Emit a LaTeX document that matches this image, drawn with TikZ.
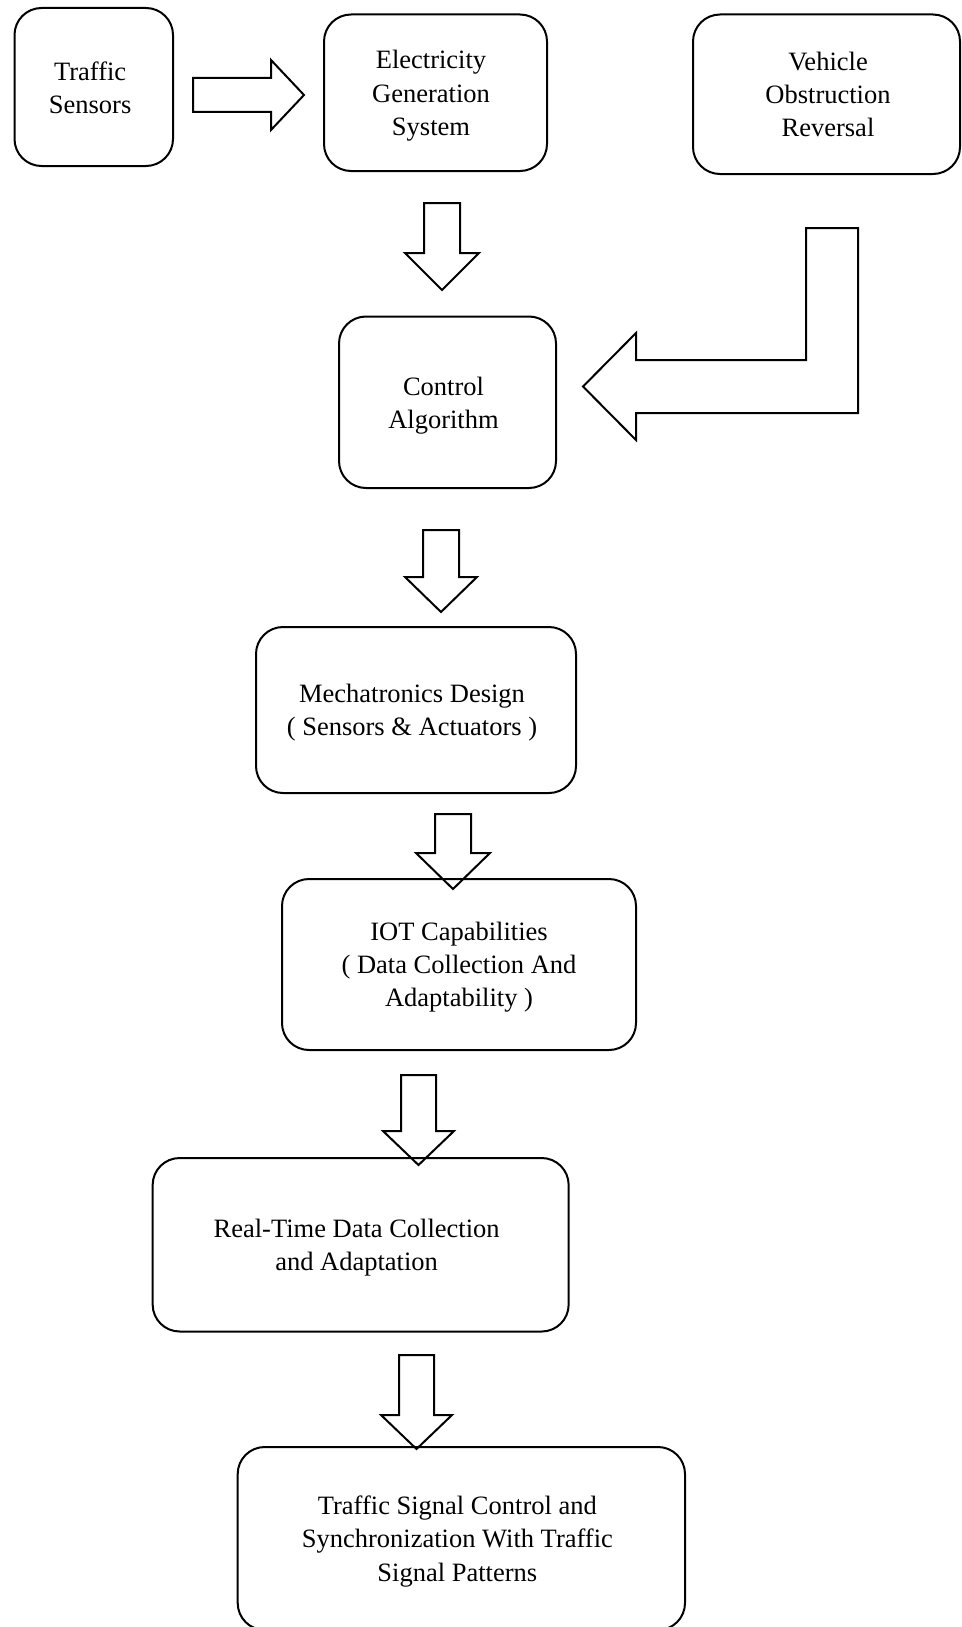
\documentclass[tikz,border=0pt]{standalone}
\usepackage{fontspec}
\setmainfont{Liberation Serif}
\usetikzlibrary{calc}
\tikzset{
  box/.style={draw=black, line width=2pt, rounded corners=27pt, inner sep=0pt},
  boxtext/.style={inner sep=0pt, align=center, font=\fontsize{26.5}{33.2}\selectfont},
  blockarrow/.style={draw=black, line width=2pt, line join=miter}
}
\newcommand\blockdown[5]{%
  \draw[blockarrow] ($(#1)+(-#3,0)$) -- ($(#2)+(-#3,-#5)$) -- ($(#2)+(-#4,-#5)$) -- (#2)
    -- ($(#2)+(#4,-#5)$) -- ($(#2)+(#3,-#5)$) -- ($(#1)+(#3,0)$) -- cycle;}
\begin{document}
\begin{tikzpicture}[x=1pt,y=-1pt]
\useasboundingbox (0,0) rectangle (961,1627);
% boxes
\node[box, minimum width=158.5pt, minimum height=158pt] (ts) at (93.75,87) {};
\node[box, minimum width=223pt, minimum height=156.5pt] (egs) at (435.5,92.75) {};
\node[box, minimum width=267pt, minimum height=159.5pt] (vor) at (826.5,94.25) {};
\node[box, minimum width=217pt, minimum height=171.5pt] (ca) at (447.5,402.25) {};
\node[box, minimum width=320pt, minimum height=166pt] (md) at (416,710) {};
\node[box, minimum width=354pt, minimum height=171pt] (iot) at (459,964.5) {};
\node[box, minimum width=416pt, minimum height=173.5pt] (rt) at (360.65,1244.75) {};
\node[box, minimum width=447.3pt, minimum height=183pt] (tsc) at (461.35,1538.5) {};
% texts
\node[boxtext] (ts-t) at ($(ts)+(-3.6,1)$) {Traffic\\Sensors};
\node[boxtext] (egs-t) at ($(egs)+(-4.5,3)$) {Electricity\\Generation\\System};
\node[boxtext] (vor-t) at ($(vor)+(1.5,0)$) {Vehicle\\Obstruction\\Reversal};
\node[boxtext] (ca-t) at ($(ca)+(-4,3.5)$) {Control\\Algorithm};
\node[boxtext] (md-t) at ($(md)+(-4,3)$) {Mechatronics Design\\( Sensors \& Actuators )};
\node[boxtext] (iot-t) at ($(iot)+(0,2.5)$) {IOT Capabilities\\( Data Collection And\\Adaptability )};
\node[boxtext] (rt-t) at ($(rt)+(-4,2.5)$) {Real-Time Data Collection\\and Adaptation};
\node[boxtext] (tsc-t) at ($(tsc)+(-4,3)$) {Traffic Signal Control and\\Synchronization With Traffic\\Signal Patterns};
% arrow end points
\coordinate (r1s) at (193,95);
\coordinate (r1t) at (304,95);
\coordinate (d1s) at (442,203);   \coordinate (d1t) at (442,290);
\coordinate (d2s) at (441,530);   \coordinate (d2t) at (441,612);
\coordinate (d3s) at (453,814);   \coordinate (d3t) at (453,889);
\coordinate (d4s) at (418.5,1075); \coordinate (d4t) at (418.5,1165);
\coordinate (d5s) at (416.5,1355); \coordinate (d5t) at (416.5,1449);
\coordinate (lt) at (583,386.5);
% right arrow: Traffic Sensors -> Electricity Generation System
\draw[blockarrow] ($(r1s)+(0,-17)$) -- ($(r1t)+(-33,-17)$) -- ($(r1t)+(-33,-35)$) -- (r1t)
  -- ($(r1t)+(-33,35)$) -- ($(r1t)+(-33,17)$) -- ($(r1s)+(0,17)$) -- cycle;
% down arrows
\blockdown{d1s}{d1t}{18}{37}{37}
\blockdown{d2s}{d2t}{18}{36}{35}
\blockdown{d3s}{d3t}{18}{37}{36}
\blockdown{d4s}{d4t}{17.5}{35.5}{34}
\blockdown{d5s}{d5t}{17.5}{35.5}{34}
% L-shaped arrow from Vehicle Obstruction Reversal to Control Algorithm
\draw[blockarrow] (lt) -- ($(lt)+(53,-53.5)$) -- ($(lt)+(53,-26.5)$) -- ($(lt)+(223,-26.5)$)
  -- ($(lt)+(223,-158.5)$) -- ($(lt)+(275,-158.5)$) -- ($(lt)+(275,26.5)$)
  -- ($(lt)+(53,26.5)$) -- ($(lt)+(53,53.5)$) -- cycle;
\end{tikzpicture}
\end{document}
